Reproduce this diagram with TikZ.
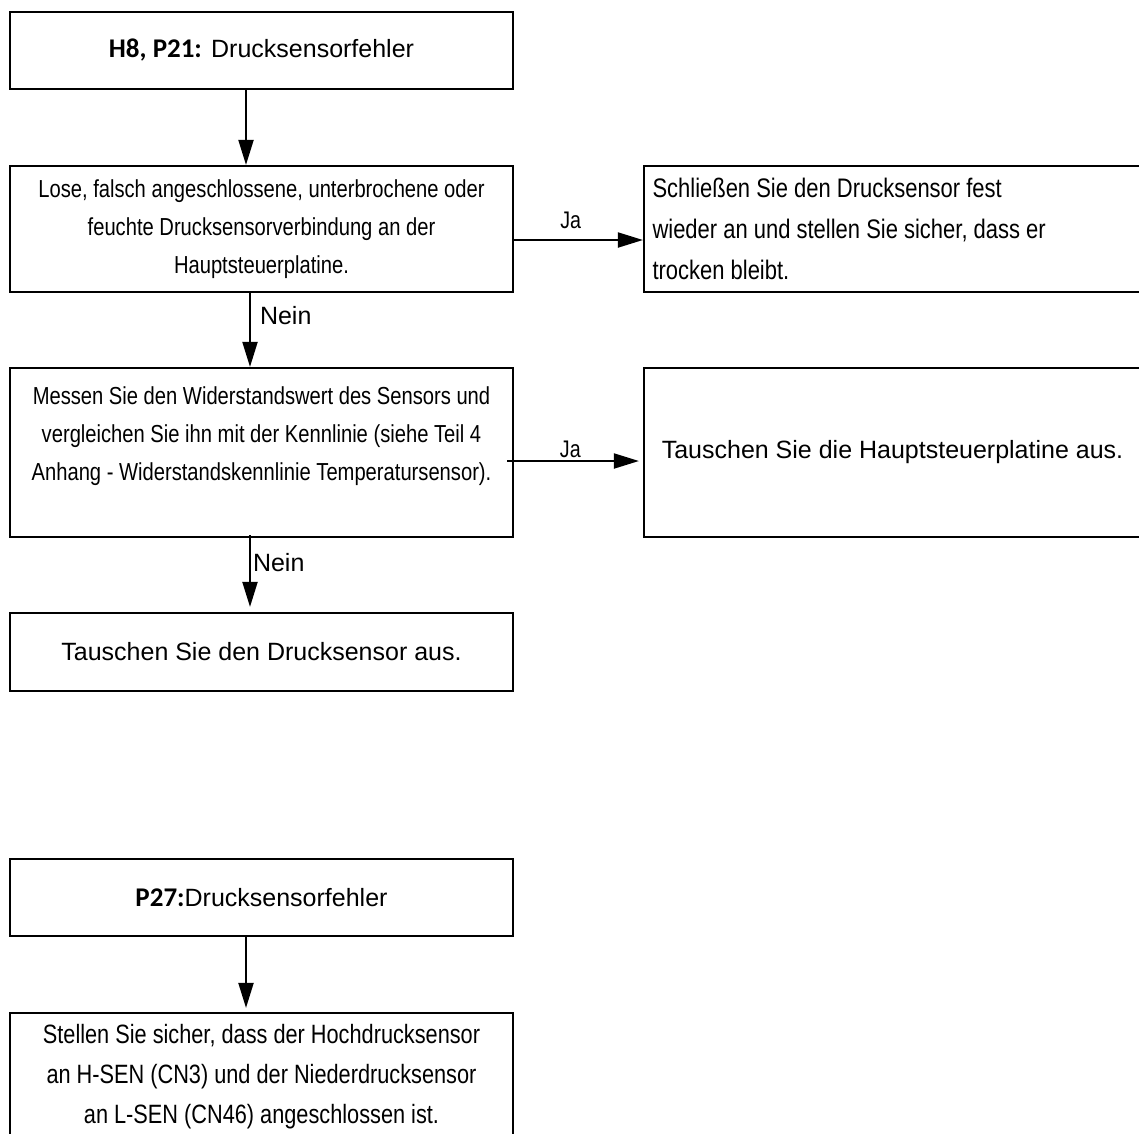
\documentclass[tikz,border=0pt]{standalone}
\usepackage{fontspec}
\setmainfont{Liberation Sans}
\newfontfamily\narrowfont[FakeStretch=0.82]{Liberation Sans}
\newfontfamily\headfont{Carlito}
\usetikzlibrary{arrows.meta}

\begin{document}
\begin{tikzpicture}[x=1pt, y=-1pt]
	\tikzset{box/.style = {draw, line width = 2.2pt, minimum width = 503pt, inner sep = 0pt}}
	\tikzset{flow/.style = {line width = 2pt, -{Triangle[length = 25pt, width = 15pt]}}}
	\tikzset{narrow/.style = {font = \narrowfont\fontsize{24.6}{38}\selectfont, align = center}}
	\tikzset{answer/.style = {inner sep = 2pt, font = \fontsize{25}{30}\selectfont}}
	\useasboundingbox (0,0) rectangle (1139,1133);

%% H8, P21 chain
\draw (261.5,50.5) node[box, name = err1, minimum height = 77pt, font = \fontsize{25}{30}\selectfont]{{\headfont\bfseries\fontsize{27}{30}\selectfont H8, P21:} Drucksensorfehler};

\draw (261.5,229) node[box, narrow, name = check1, minimum height = 126pt]{
	Lose, falsch angeschlossene, unterbrochene oder\\
	feuchte Drucksensorverbindung an der\\
	Hauptsteuerplatine.};

\draw (892.5,229) node[box, name = fix1, minimum width = 497pt, minimum height = 126pt, text width = 480pt, align = flush left, font = \narrowfont\fontsize{26.8}{41}\selectfont]{
	Schließen Sie den Drucksensor fest\\
	wieder an und stellen Sie sicher, dass er\\
	trocken bleibt.};

\draw (261.5,452.5) node[box, narrow, name = check2, minimum height = 169pt]{
	Messen Sie den Widerstandswert des Sensors und\\
	vergleichen Sie ihn mit der Kennlinie (siehe Teil 4\\
	Anhang - Widerstandskennlinie Temperatursensor).\\
	\mbox{}};

\draw (892.5,452.5) node[box, name = fix2, minimum width = 497pt, minimum height = 169pt, font = \fontsize{25}{30}\selectfont]{Tauschen Sie die Hauptsteuerplatine aus.};

\draw (261.5,652) node[box, name = fix3, minimum height = 78pt, font = \fontsize{25}{30}\selectfont]{Tauschen Sie den Drucksensor aus.};

%% P27 chain
\draw (261.5,897.5) node[box, name = err2, minimum height = 77pt, font = \fontsize{25}{30}\selectfont]{{\headfont\bfseries\fontsize{27}{30}\selectfont P27:}Drucksensorfehler};

\draw (261.5,1077) node[box, name = check3, minimum height = 128pt, align = center, font = \narrowfont\fontsize{26.5}{40}\selectfont]{
	Stellen Sie sicher, dass der Hochdrucksensor\\
	an H-SEN (CN3) und der Niederdrucksensor\\
	an L-SEN (CN46) angeschlossen ist.};

%% Edges
\draw[flow] ([xshift=-15.5pt]err1.south) -- ([xshift=-15.5pt]check1.north);
\draw[flow] ([yshift=-11pt]check1.east) -- node[answer, pos = 0.44, above = 8pt, font = \narrowfont\fontsize{24}{28}\selectfont]{Ja} ([yshift=-11pt]fix1.west);
\draw[flow] ([xshift=-11.5pt]check1.south) -- node[answer, pos = 0.31, right = 7pt]{Nein} ([xshift=-11.5pt]check2.north);
\draw[flow] ([shift={(-7pt,-8.5pt)}]check2.east) -- node[answer, pos = 0.48, above, font = \narrowfont\fontsize{24}{28}\selectfont]{Ja} ([shift={(-4pt,-8.5pt)}]fix2.west);
\draw[flow] ([shift={(-11.5pt,3pt)}]check2.south) -- node[answer, pos = 0.38, right]{Nein} ([shift={(-11.5pt,5pt)}]fix3.north);
\draw[flow] ([xshift=-15.5pt]err2.south) -- ([shift={(-15.5pt,4pt)}]check3.north);
\end{tikzpicture}
\end{document}
